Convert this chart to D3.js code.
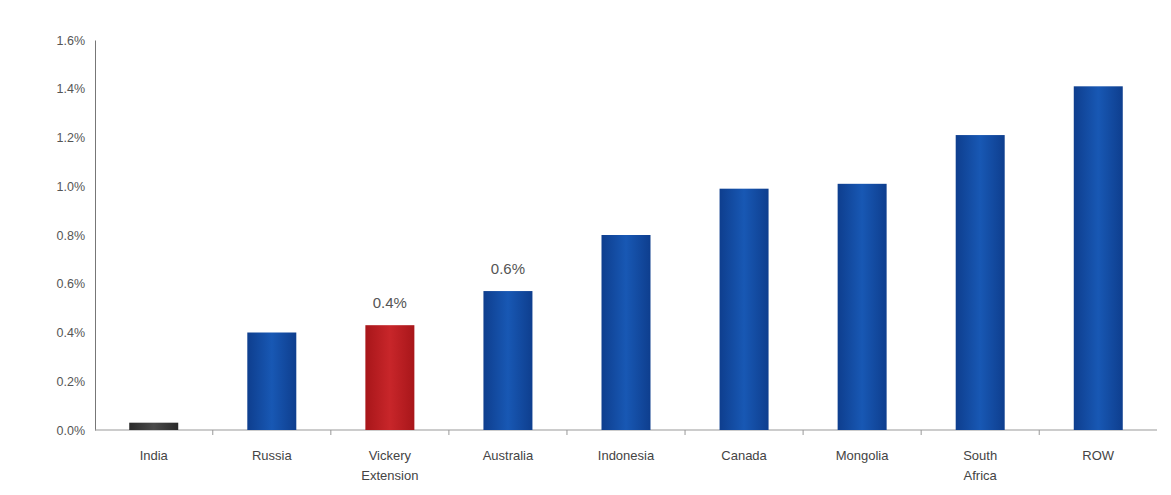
<!DOCTYPE html>
<html>
<head>
<meta charset="utf-8">
<script src="https://cdn.jsdelivr.net/npm/d3@7/dist/d3.min.js"></script>
<style>
  html, body { margin: 0; padding: 0; background: #fff; }
  svg { display: block; font-family: "Liberation Sans", Arial, sans-serif; }
</style>
</head>
<body>
<svg id="chart" width="1171" height="495"></svg>
<script>
// Categories (multi-line labels split on "\n")
const categories = ["India", "Russia", "Vickery\nExtension", "Australia", "Indonesia", "Canada", "Mongolia", "South\nAfrica", "ROW"];
// Share values, as fractions
const values = [0.0003, 0.0040, 0.0043, 0.0057, 0.0080, 0.0099, 0.0101, 0.0121, 0.0141];
// Bar kind: highlighted project, low reference, or standard
const kinds = ["low", "std", "hl", "std", "std", "std", "std", "std", "std"];
// Categories whose value is printed above the bar
const labelled = ["Vickery\nExtension", "Australia"];
// Y-axis tick values
const yTicks = [0, 0.002, 0.004, 0.006, 0.008, 0.010, 0.012, 0.014, 0.016];

const svg = d3.select("#chart");
const margin = { left: 95, right: 14, top: 40, bottom: 65 };
const W = 1171, H = 495;

const x = d3.scaleBand()
  .domain(categories)
  .range([margin.left, W - margin.right])
  .paddingInner(0.585)
  .paddingOuter(0.29);

const y = d3.scaleLinear()
  .domain([0, 0.016])
  .range([H - margin.bottom, margin.top]);

const defs = svg.append("defs");
function grad(id, edge, mid) {
  const g = defs.append("linearGradient").attr("id", id)
    .attr("x1", "0%").attr("x2", "100%").attr("y1", "0%").attr("y2", "0%");
  g.append("stop").attr("offset", "0%").attr("stop-color", edge);
  g.append("stop").attr("offset", "50%").attr("stop-color", mid);
  g.append("stop").attr("offset", "100%").attr("stop-color", edge);
}
grad("g-std", "#0e3e8e", "#1858b4");
grad("g-hl", "#a8161a", "#c8262a");
grad("g-low", "#2a2a2a", "#4a4a4a");

// Y axis
const yAxis = d3.axisLeft(y)
  .tickValues(yTicks)
  .tickFormat(d3.format(".1%"))
  .tickSize(0)
  .tickPadding(10);
const gy = svg.append("g")
  .attr("transform", `translate(${margin.left},0)`)
  .call(yAxis);
gy.select(".domain").attr("stroke", "#777").attr("stroke-width", 1);
gy.selectAll("text").attr("fill", "#555").attr("font-size", 12.5);

// X axis: baseline with ticks between categories
const base = y(0);
svg.append("line")
  .attr("x1", margin.left).attr("x2", W - margin.right)
  .attr("y1", base).attr("y2", base)
  .attr("stroke", "#999").attr("stroke-width", 1);
const step = x.step();
const sepX = categories.slice(1).map(c => x(c) - x.paddingInner() * step / 2);
svg.append("g").selectAll("line").data(sepX).join("line")
  .attr("x1", d => d).attr("x2", d => d)
  .attr("y1", base).attr("y2", base + 5)
  .attr("stroke", "#999");

// Bars
const fills = { std: "url(#g-std)", hl: "url(#g-hl)", low: "url(#g-low)" };
svg.append("g").selectAll("rect").data(categories).join("rect")
  .attr("x", d => x(d))
  .attr("width", x.bandwidth())
  .attr("y", (d, i) => y(values[i]))
  .attr("height", (d, i) => base - y(values[i]))
  .attr("fill", (d, i) => fills[kinds[i]]);

// Value labels
svg.append("g").selectAll("text").data(labelled).join("text")
  .attr("x", d => x(d) + x.bandwidth() / 2)
  .attr("y", d => y(values[categories.indexOf(d)]) - 17)
  .attr("text-anchor", "middle")
  .attr("fill", "#555")
  .attr("font-size", 15)
  .text(d => d3.format(".1%")(values[categories.indexOf(d)]));

// Category labels
const lab = svg.append("g").selectAll("text").data(categories).join("text")
  .attr("x", d => x(d) + x.bandwidth() / 2)
  .attr("y", base + 30)
  .attr("text-anchor", "middle")
  .attr("fill", "#444")
  .attr("font-size", 13);
lab.each(function(d) {
  const t = d3.select(this);
  d.split("\n").forEach((line, i) => {
    t.append("tspan")
      .attr("x", x(d) + x.bandwidth() / 2)
      .attr("dy", i === 0 ? 0 : 20)
      .text(line);
  });
});
</script>
</body>
</html>
